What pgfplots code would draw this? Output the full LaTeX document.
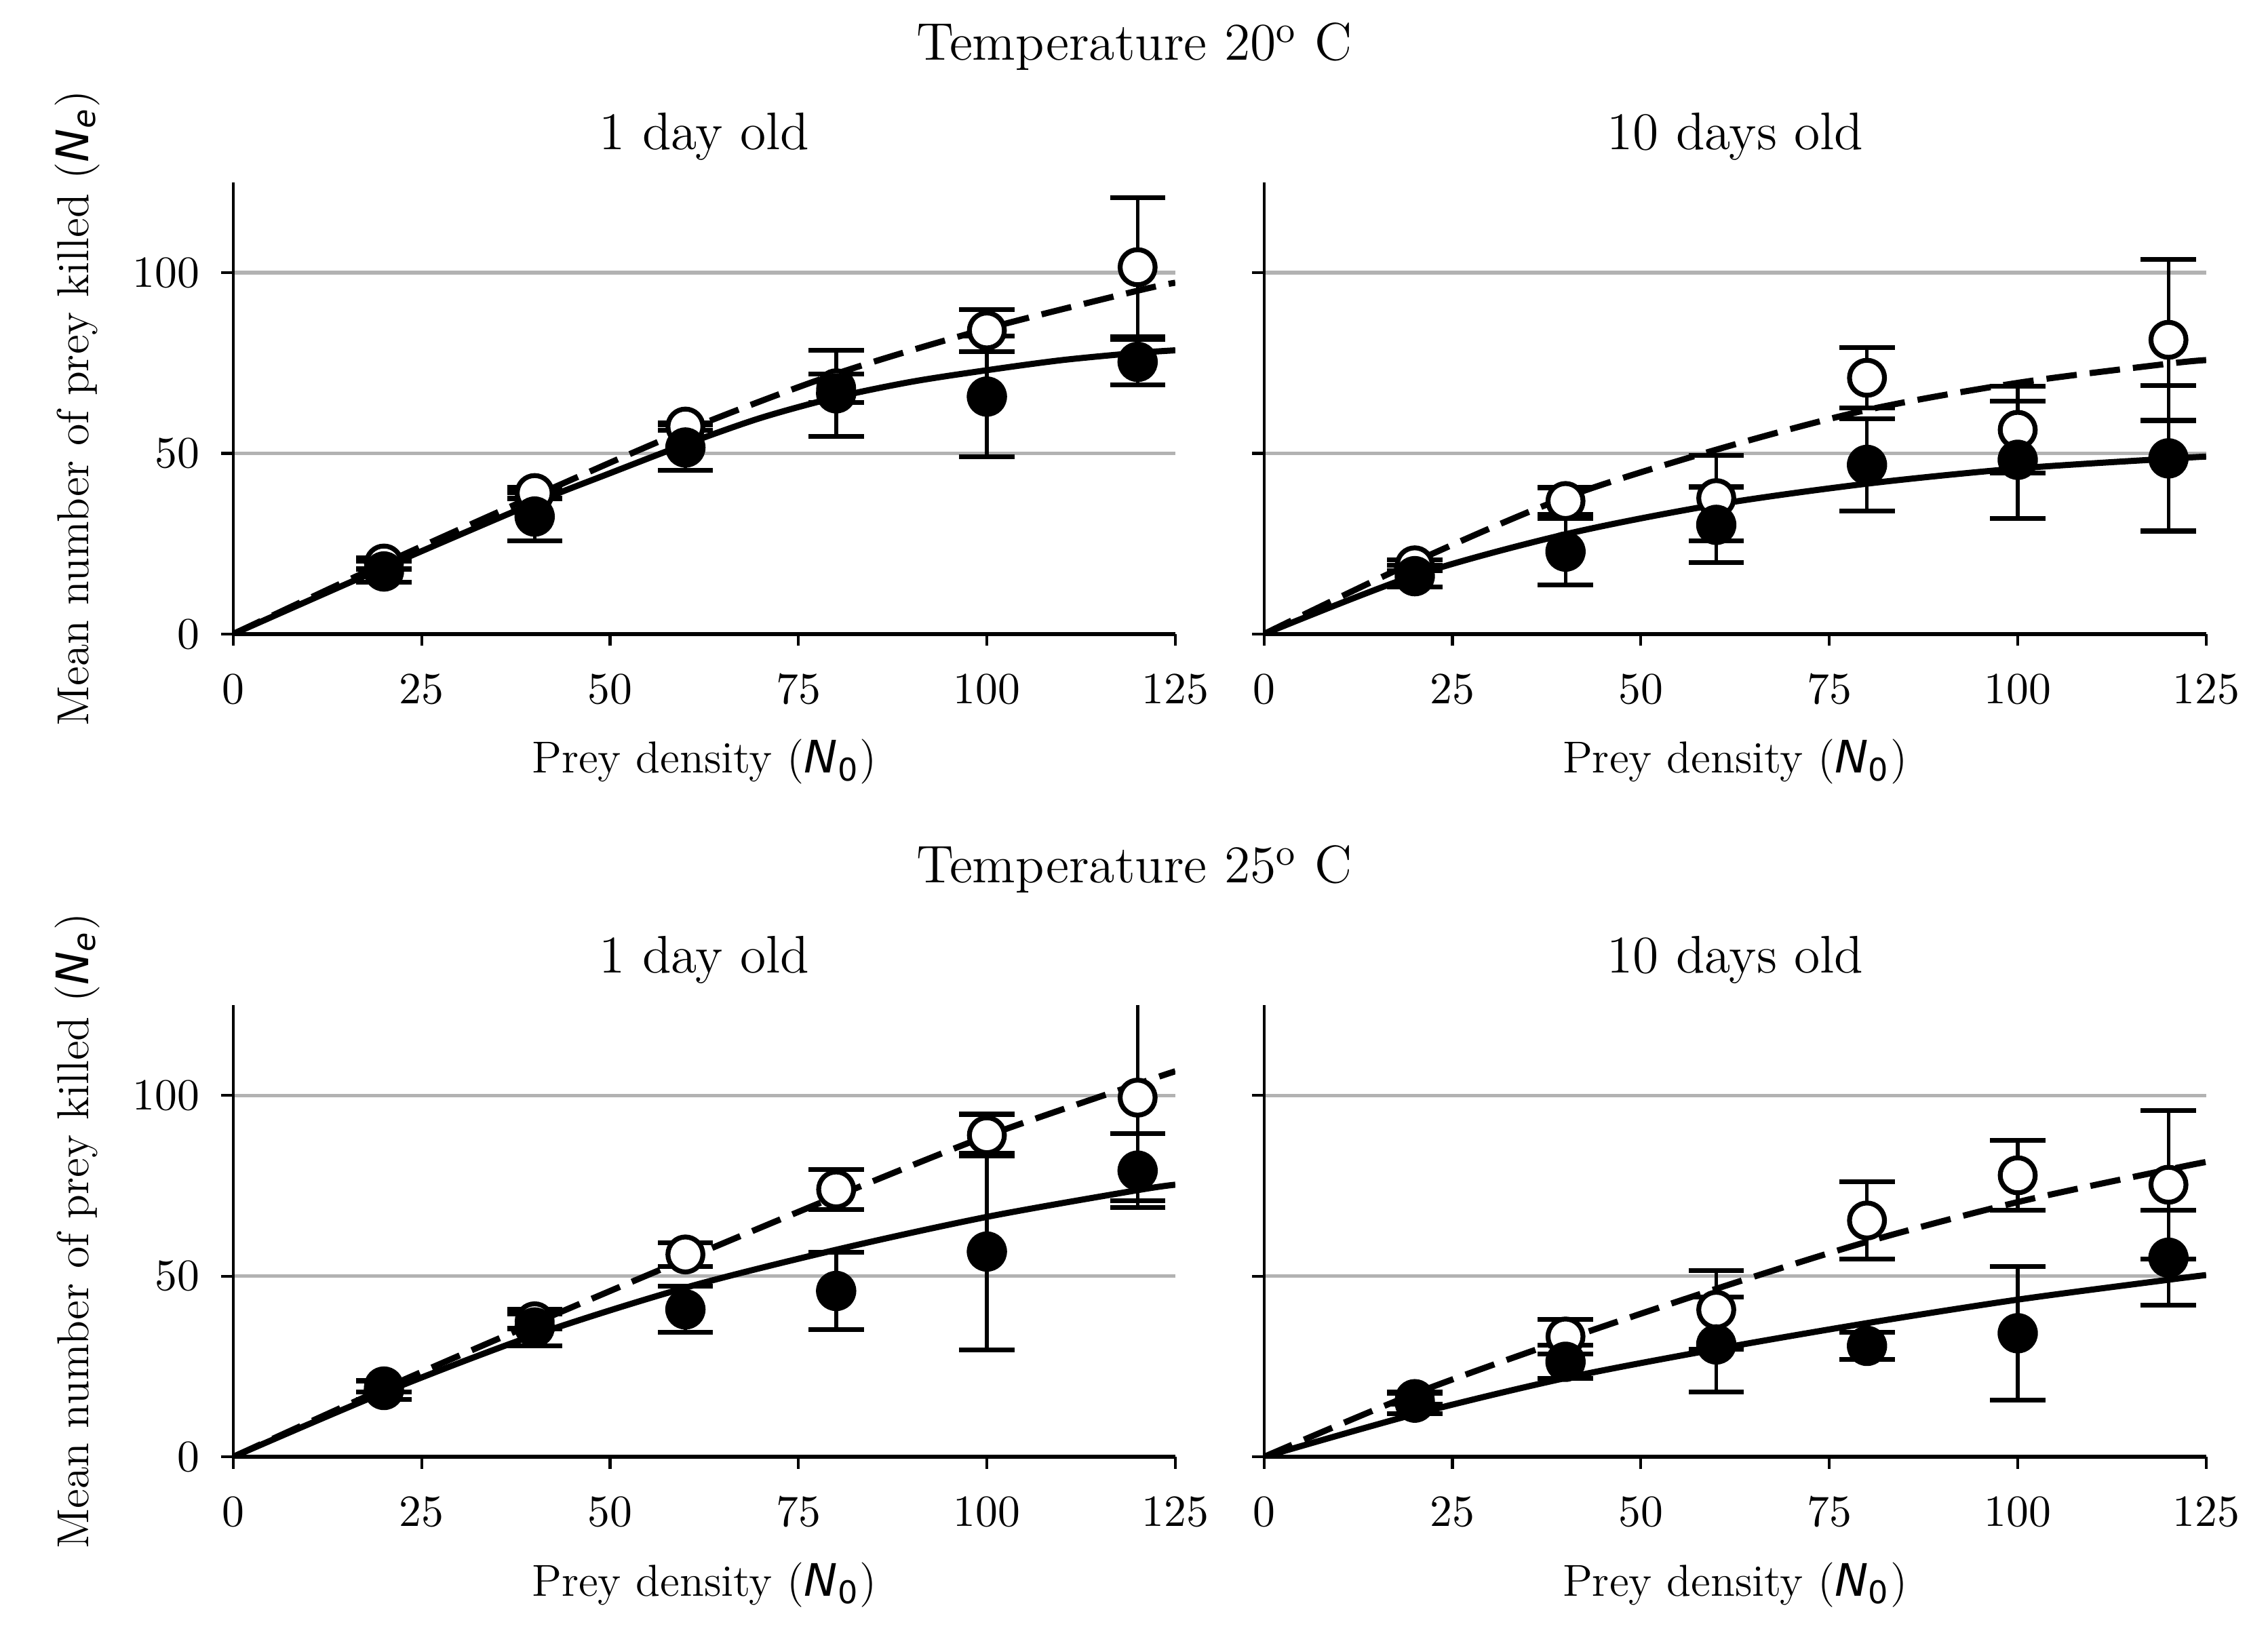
\documentclass[border=0pt]{standalone}
\usepackage{fontspec}
\usepackage{pgfplots}
\pgfplotsset{compat=1.18}
\newfontfamily\dv{DejaVu Sans}

\pgfplotsset{
  panel/.style={
    scale only axis, width=231.5pt, height=111pt,
    xmin=0, xmax=125, ymin=0, ymax=125,
    axis x line=bottom, axis y line=left,
    every outer x axis line/.append style={-},
    every outer y axis line/.append style={-},
    x axis line style={-, line width=1.1pt},
    y axis line style={-, line width=0.7pt},
    xtick={0,25,50,75,100,125}, ytick={0,50,100},
    tick align=outside, major tick length=2.9pt,
    tick style={black, line width=0.7pt},
    ymajorgrids, grid style={line width=0.9pt, black!30},
    ticklabel style={font=\fontsize{10.5}{12}\selectfont},
    xticklabel style={yshift=-3.6pt},
    yticklabel style={xshift=-1.8pt},
    xlabel={Prey density ({\dv\itshape N}\textsubscript{\dv 0})},
    ylabel={Mean number of prey killed ({\dv\itshape N\textsubscript{e}})},
    label style={font=\fontsize{11}{13}\selectfont},
    xlabel style={at={(rel axis cs:0.5,0)}, anchor=center, yshift=-31.4pt},
    ylabel style={at={(rel axis cs:-0.1654,0.5)}, anchor=center},
    title style={at={(rel axis cs:0.5,1)}, anchor=base, yshift=2.0pt, font=\fontsize{13}{15}\selectfont},
  },
  solidc/.style={no marks, black, line width=1.5pt, smooth},
  dashc/.style={no marks, black, line width=1.5pt, smooth, dash pattern=on 7.5pt off 3.2pt},
  openpts/.style={only marks, mark=*, mark size=4.3pt,
    mark options={fill=white, draw=black, line width=1.2pt, solid},
    error bars/.cd, y dir=both, y explicit,
    error bar style={line width=0.9pt, black, solid},
    error mark options={rotate=90, mark size=6.8pt, line width=1.2pt, black, solid}},
  fillpts/.style={only marks, mark=*, mark size=4.7pt,
    mark options={fill=black, draw=black, line width=0.5pt, solid},
    error bars/.cd, y dir=both, y explicit,
    error bar style={line width=0.9pt, black, solid},
    error mark options={rotate=90, mark size=6.8pt, line width=1.2pt, black, solid}},
}

\begin{document}
\begin{tikzpicture}
\path (0,0) rectangle (557.3pt,-400.2pt);
\node[anchor=base, font=\fontsize{13}{15}\selectfont] at (278.7pt,-14.7pt) {Temperature 20\textsuperscript{o} C};
\node[anchor=base, font=\fontsize{13}{15}\selectfont] at (278.7pt,-216.9pt) {Temperature 25\textsuperscript{o} C};

% ---------- 20 C, 1 day old
\begin{axis}[panel, at={(57.3pt,-44.8pt)}, anchor=north west, title={1 day old}]
\addplot[dashc] coordinates {(0,0) (20,19.5) (40,38.2) (60,56.3) (80,72) (100,84.5) (120,95) (125,97.2)};
\addplot[solidc] coordinates {(0,0) (20,18.4) (40,36.3) (50,44.5) (60,52.5) (70,59.8) (80,65.5) (90,69.8) (100,73) (110,75.8) (120,77.8) (125,78.5)};
\addplot[openpts] coordinates {(20,19.5) +- (0,1.5) (40,39) +- (0,1.5) (60,57.4) +- (0,1.0) (80,68) +- (0,3.9) (100,84) +- (0,5.8) (120,101.5) +- (0,19.2)};
\addplot[fillpts] coordinates {(20,17.3) +- (0,2.9) (40,32.5) +- (0,6.7) (60,51.6) +- (0,6.3) (80,66.6) +- (0,11.9) (100,65.7) +- (0,16.7) (120,75.3) +- (0,6.3)};
\end{axis}

% ---------- 20 C, 10 days old
\begin{axis}[panel, at={(310.6pt,-44.8pt)}, anchor=north west, title={10 days old}, ylabel={}, yticklabels={}]
\addplot[dashc] coordinates {(0,0) (20,20) (40,37.8) (60,51) (80,62) (100,69.5) (120,74.8) (125,75.8)};
\addplot[solidc] coordinates {(0,0) (20,16.2) (40,27.6) (60,35.8) (80,41.6) (100,45.8) (120,48.5) (125,49.1)};
\addplot[openpts] coordinates {(20,19) +- (0,1.5) (40,36.8) +- (0,3.7) (60,37.6) +- (0,11.8) (80,70.9) +- (0,8.3) (100,56.5) +- (0,12) (120,81.4) +- (0,22.3)};
\addplot[fillpts] coordinates {(20,16) +- (0,3) (40,22.8) +- (0,9.2) (60,30.2) +- (0,10.5) (80,46.8) +- (0,12.7) (100,48.2) +- (0,16.2) (120,48.6) +- (0,20.1)};
\end{axis}

% ---------- 25 C, 1 day old
\begin{axis}[panel, at={(57.3pt,-247pt)}, anchor=north west, title={1 day old}]
\addplot[dashc] coordinates {(0,0) (20,18.9) (40,37) (60,54.7) (80,72.1) (100,88.8) (120,103.2) (125,106.7)};
\addplot[solidc] coordinates {(0,0) (20,17.8) (40,33.7) (60,46.8) (80,57.3) (100,66.4) (120,73.8) (125,75.3)};
\addplot[openpts] coordinates {(20,19.5) +- (0,1.5) (40,37.5) +- (0,2) (60,56) +- (0,3.3) (80,74) +- (0,5.5) (100,89) +- (0,5.8) (120,99.4) +- (0,28.6)};
\addplot[fillpts] coordinates {(20,18.5) +- (0,2.6) (40,35.8) +- (0,5.1) (60,40.8) +- (0,6.4) (80,45.9) +- (0,10.7) (100,56.8) +- (0,27.2) (120,79.2) +- (0,10.2)};
\end{axis}

% ---------- 25 C, 10 days old
\begin{axis}[panel, at={(310.6pt,-247pt)}, anchor=north west, title={10 days old}, ylabel={}, yticklabels={}]
\addplot[dashc] coordinates {(0,0) (20,17.5) (40,32.5) (60,46.5) (80,59.5) (100,70.5) (120,79.5) (125,81.6)};
\addplot[solidc] coordinates {(0,0) (20,11.8) (40,21.8) (60,29.8) (80,37) (100,43.5) (120,49) (125,50.3)};
\addplot[openpts] coordinates {(20,16) +- (0,1.5) (40,33.3) +- (0,4.8) (60,40.7) +- (0,10.9) (80,65.4) +- (0,10.7) (100,77.9) +- (0,9.6) (120,75.3) +- (0,20.6)};
\addplot[fillpts] coordinates {(20,15) +- (0,3) (40,26.3) +- (0,4.6) (60,31.1) +- (0,13.1) (80,30.7) +- (0,3.7) (100,34.2) +- (0,18.5) (120,55.1) +- (0,13.1)};
\end{axis}
\end{tikzpicture}
\end{document}
